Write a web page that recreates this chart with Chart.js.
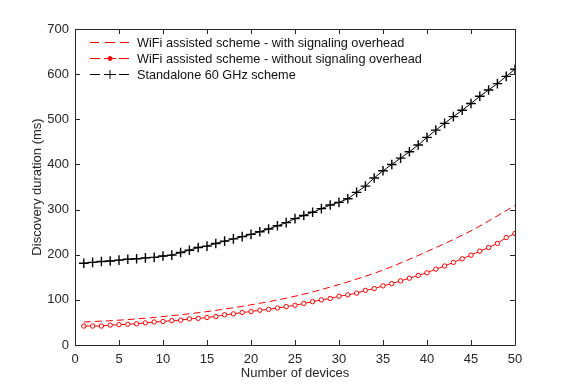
<!DOCTYPE html>
<html>
<head>
<meta charset="utf-8">
<script src="https://cdn.jsdelivr.net/npm/chart.js@4.4.1/dist/chart.umd.min.js"></script>
<style>
  html, body { margin: 0; padding: 0; background: #fff; }
  #wrap { width: 568px; height: 388px; }
</style>
</head>
<body>
<div id="wrap"><canvas id="chart"></canvas></div>
<script>
const devices = [1, 2, 3, 4, 5, 6, 7, 8, 9, 10, 11, 12, 13, 14, 15, 16, 17, 18, 19, 20, 21, 22, 23, 24, 25,
  26, 27, 28, 29, 30, 31, 32, 33, 34, 35, 36, 37, 38, 39, 40, 41, 42, 43, 44, 45, 46, 47, 48, 49, 50]

// dashed curve, read at a few x positions
const overheadX = [1, 5, 10, 15, 20, 25, 30, 35, 40, 45, 50]
const withOverhead = [51, 55, 63, 74, 89, 108, 134, 166, 207, 253, 309]

const withoutOverhead = [42, 42, 42, 44, 45, 46, 47, 49, 51, 52, 54, 55, 58, 59, 61, 63, 67, 69, 72, 74,
  77, 79, 82, 85, 88, 92, 96, 100, 103, 108, 111, 115, 121, 125, 131, 136, 142, 148, 154, 160,
  168, 175, 183, 191, 199, 208, 216, 225, 238, 247]

const standalone = [181, 183, 185, 186, 188, 190, 191, 193, 194, 197, 199, 205, 210, 216, 219, 225, 230, 235, 240, 245,
  251, 257, 264, 271, 280, 287, 294, 302, 310, 316, 324, 338, 352, 370, 386, 400, 414, 428, 443, 460,
  476, 491, 506, 520, 535, 551, 565, 579, 595, 611]

const xTicks = [0, 5, 10, 15, 20, 25, 30, 35, 40, 45, 50]
const yTicks = [0, 100, 200, 300, 400, 500, 600, 700]

const legendLabels = [
  'WiFi assisted scheme - with signaling overhead',
  'WiFi assisted scheme - without signaling overhead',
  'Standalone 60 GHz scheme',
]

const axisColor = '#262626'
const fontFamily = '"Liberation Sans", Arial, Helvetica, sans-serif'

const pts = (xs, ys) => xs.map((x, i) => ({ x, y: ys[i] }))

// frame with inward tick marks on all four sides
const framePlugin = {
  id: 'frame',
  afterDatasetsDraw(chart) {
    const { ctx, chartArea: a, scales } = chart
    const len = 5
    ctx.save()
    ctx.strokeStyle = axisColor
    ctx.lineWidth = 1
    ctx.beginPath()
    ctx.rect(a.left + 0.5, a.top + 0.5, a.right - a.left, a.bottom - a.top)
    xTicks.forEach(v => {
      const x = Math.round(scales.x.getPixelForValue(v)) + 0.5
      ctx.moveTo(x, a.bottom); ctx.lineTo(x, a.bottom - len)
      ctx.moveTo(x, a.top); ctx.lineTo(x, a.top + len)
    })
    yTicks.forEach(v => {
      const y = Math.round(scales.y.getPixelForValue(v)) + 0.5
      ctx.moveTo(a.left, y); ctx.lineTo(a.left + len, y)
      ctx.moveTo(a.right, y); ctx.lineTo(a.right - len, y)
    })
    ctx.stroke()
    ctx.restore()
  },
}

function drawMarker(ctx, style, x, y, r, color, fill) {
  ctx.beginPath()
  if (style === 'cross') {
    ctx.moveTo(x - r, y); ctx.lineTo(x + r, y)
    ctx.moveTo(x, y - r); ctx.lineTo(x, y + r)
    ctx.strokeStyle = color
    ctx.stroke()
  } else if (style === 'circle') {
    ctx.arc(x, y, r, 0, Math.PI * 2)
    ctx.fillStyle = fill
    ctx.fill()
    ctx.strokeStyle = color
    ctx.stroke()
  }
}

// matlab-like legend in the top-left corner
const legendPlugin = {
  id: 'mlegend',
  afterDraw(chart) {
    const { ctx } = chart
    const x0 = 90, x1 = 129, xm = 110
    const rows = [42, 58, 74]
    ctx.save()
    ctx.font = '12.7px ' + fontFamily
    ctx.textBaseline = 'middle'
    chart.data.datasets.forEach((ds, i) => {
      const y = rows[i] + 0.5
      ctx.lineWidth = 1
      ctx.strokeStyle = ds.borderColor
      ctx.setLineDash([])
      ctx.beginPath()
      if (ds.borderDash && ds.borderDash.length) {
        ctx.moveTo(x0, y); ctx.lineTo(x0 + 9, y)
        ctx.moveTo(xm - 5, y); ctx.lineTo(xm + 5, y)
        ctx.moveTo(x1 - 9, y); ctx.lineTo(x1, y)
      } else {
        ctx.moveTo(x0, y); ctx.lineTo(x0 + 10, y)
        ctx.moveTo(x1 - 10, y); ctx.lineTo(x1, y)
        ctx.moveTo(xm - 6, y); ctx.lineTo(xm + 6, y)
      }
      ctx.stroke()
      if (ds.pointRadius > 0) {
        if (ds.pointStyle === 'circle') {
          drawMarker(ctx, 'circle', xm, y, 2, ds.borderColor, ds.borderColor)
        } else {
          drawMarker(ctx, ds.pointStyle, xm, y, 4.5, ds.borderColor)
        }
      }
      ctx.fillStyle = '#111'
      ctx.fillText(legendLabels[i], 137, rows[i] + 1)
    })
    ctx.restore()
  },
}

new Chart(document.getElementById('chart'), {
  type: 'line',
  data: {
    datasets: [
      {
        label: legendLabels[0],
        data: pts(overheadX, withOverhead),
        borderColor: '#ff0000',
        borderWidth: 1,
        borderDash: [7, 4],
        pointRadius: 0,
        cubicInterpolationMode: 'monotone',
      },
      {
        label: legendLabels[1],
        data: pts(devices, withoutOverhead),
        borderColor: '#ff0000',
        borderWidth: 1,
        pointStyle: 'circle',
        pointRadius: 2.2,
        pointBorderWidth: 1,
        pointBackgroundColor: '#ffffff',
        pointBorderColor: '#ff0000',
        tension: 0,
      },
      {
        label: legendLabels[2],
        data: pts(devices, standalone),
        borderColor: '#000000',
        borderWidth: 1,
        pointStyle: 'cross',
        pointRadius: 4.8,
        pointBorderWidth: 1.4,
        pointBorderColor: '#000000',
        tension: 0,
      },
    ],
  },
  options: {
    responsive: true,
    maintainAspectRatio: false,
    animation: false,
    events: [],
    layout: {
      padding: { left: 0, top: 29, right: 53, bottom: 0 },
    },
    plugins: {
      legend: { display: false },
      tooltip: { enabled: false },
    },
    scales: {
      x: {
        type: 'linear',
        min: 0,
        max: 50,
        afterFit: scale => { scale.height = 43 },
        afterBuildTicks: scale => { scale.ticks = xTicks.map(v => ({ value: v })) },
        grid: { display: false, drawTicks: false },
        border: { display: false },
        ticks: {
          color: axisColor,
          padding: 7,
          maxRotation: 0,
          font: { family: fontFamily, size: 13 },
        },
        title: {
          display: true,
          text: 'Number of devices',
          color: axisColor,
          padding: { top: 7, bottom: 7 },
          font: { family: fontFamily, size: 13 },
        },
      },
      y: {
        min: 0,
        max: 700,
        afterFit: scale => { scale.width = 75 },
        afterBuildTicks: scale => { scale.ticks = yTicks.map(v => ({ value: v })) },
        grid: { display: false, drawTicks: false },
        border: { display: false },
        ticks: {
          color: axisColor,
          padding: 6,
          font: { family: fontFamily, size: 13 },
        },
        title: {
          display: true,
          text: 'Discovery duration (ms)',
          color: axisColor,
          padding: { top: 30, bottom: 0 },
          font: { family: fontFamily, size: 13 },
        },
      },
    },
  },
  plugins: [framePlugin, legendPlugin],
})
</script>
</body>
</html>
